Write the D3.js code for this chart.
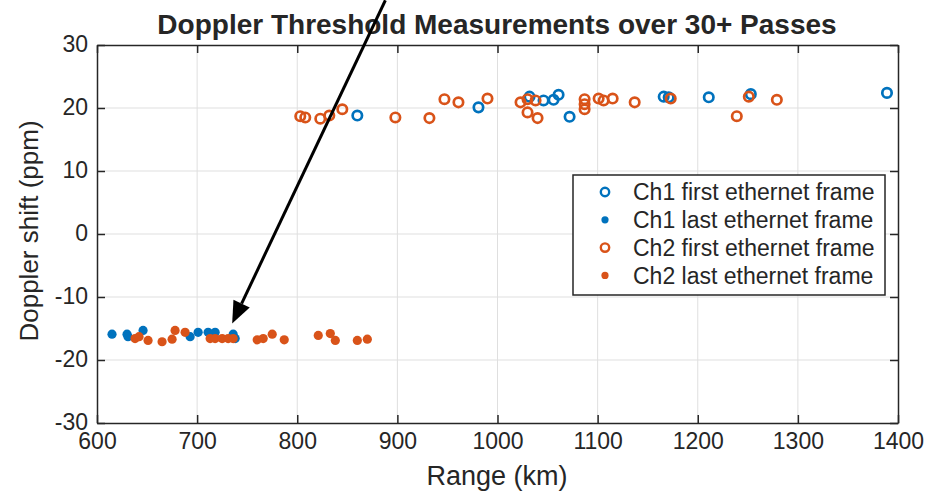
<!DOCTYPE html>
<html>
<head>
<meta charset="utf-8">
<script src="https://cdn.jsdelivr.net/npm/d3@7"></script>
<style>
  body { margin: 0; background: #fff; }
  text { font-family: "Liberation Sans", Arial, sans-serif; fill: #262626; }
</style>
</head>
<body>
<div id="chart"></div>
<script>
// range (km) and doppler shift (ppm)
const ch1First = [
  [860, 18.8], [981, 20.1], [1032, 21.8], [1046, 21.2], [1056, 21.3],
  [1061, 22.1], [1072, 18.6], [1166, 21.8], [1171, 21.7], [1211, 21.7],
  [1253, 22.2], [1389, 22.4]
];
const ch1Last = [
  [615, -15.9], [630, -15.9], [631, -16.3], [646, -15.3], [693, -16.3],
  [701, -15.6], [711, -15.6], [718, -15.6], [736, -15.9], [738, -16.6]
];
const ch2First = [
  [803, 18.7], [808, 18.5], [823, 18.3], [832, 18.8], [845, 19.8],
  [898, 18.5], [932, 18.4], [947, 21.4], [961, 20.9], [990, 21.5],
  [1023, 20.9], [1030, 21.4], [1030, 19.3], [1038, 21.2], [1040, 18.4],
  [1087, 21.4], [1087, 20.6], [1087, 19.8], [1101, 21.5], [1106, 21.2],
  [1115, 21.5], [1137, 20.9], [1173, 21.5], [1239, 18.7], [1251, 21.8],
  [1279, 21.3]
];
const ch2Last = [
  [638, -16.6], [642, -16.3], [651, -16.9], [665, -17.1], [675, -16.7],
  [678, -15.3], [688, -15.6], [713, -16.6], [718, -16.6], [725, -16.6],
  [731, -16.6], [736, -16.6], [760, -16.8], [766, -16.6], [775, -15.9],
  [787, -16.8], [821, -16.1], [833, -15.8], [838, -16.9], [860, -16.9],
  [870, -16.7]
];
const xTicks = [600, 700, 800, 900, 1000, 1100, 1200, 1300, 1400];
const yTicks = [-30, -20, -10, 0, 10, 20, 30];
const legendLabels = [
  "Ch1 first ethernet frame", "Ch1 last ethernet frame",
  "Ch2 first ethernet frame", "Ch2 last ethernet frame"
];
// arrow annotation: start and tip in data units
const arrowFrom = [888, 37.1];
const arrowTo = [735, -14.2];

const blue = "#0072BD";
const orange = "#D95319";
const axisCol = "#262626";

const width = 928, height = 492;
const m = { left: 97, right: 30, top: 45, bottom: 69 };

const svg = d3.select("#chart").append("svg")
  .attr("width", width).attr("height", height);

const x = d3.scaleLinear().domain([600, 1400]).range([m.left, width - m.right]);
const y = d3.scaleLinear().domain([-30, 30]).range([height - m.bottom, m.top]);

// grid
svg.append("g").selectAll("line").data(xTicks.slice(1, -1)).join("line")
  .attr("x1", d => x(d)).attr("x2", d => x(d))
  .attr("y1", y(-30)).attr("y2", y(30))
  .attr("stroke", "#dfdfdf").attr("stroke-width", 1);
svg.append("g").selectAll("line").data(yTicks.slice(1, -1)).join("line")
  .attr("x1", x(600)).attr("x2", x(1400))
  .attr("y1", d => y(d)).attr("y2", d => y(d))
  .attr("stroke", "#dfdfdf").attr("stroke-width", 1);

// axes (ticks inward, box on)
const tl = 8;
const fmt = d => String(d);
const gx = svg.append("g").attr("transform", `translate(0,${y(-30)})`)
  .call(d3.axisBottom(x).tickValues(xTicks).tickFormat(fmt)
    .tickSizeInner(-tl).tickSizeOuter(0).tickPadding(10));
const gxTop = svg.append("g").attr("transform", `translate(0,${y(30)})`)
  .call(d3.axisTop(x).tickValues(xTicks).tickSizeInner(-tl).tickSizeOuter(0).tickFormat(""));
const gy = svg.append("g").attr("transform", `translate(${x(600)},0)`)
  .call(d3.axisLeft(y).tickValues(yTicks).tickFormat(fmt)
    .tickSizeInner(-tl).tickSizeOuter(0).tickPadding(9));
const gyR = svg.append("g").attr("transform", `translate(${x(1400)},0)`)
  .call(d3.axisRight(y).tickValues(yTicks).tickSizeInner(-tl).tickSizeOuter(0).tickFormat(""));
[gx, gxTop, gy, gyR].forEach(g => {
  g.select(".domain").attr("stroke", axisCol).attr("stroke-width", 1.5);
  g.selectAll(".tick line").attr("stroke", axisCol).attr("stroke-width", 1.5);
  g.selectAll(".tick text").attr("fill", axisCol)
    .style("font-size", "23px").style("font-family", "Liberation Sans, Arial, sans-serif");
});
gy.selectAll(".tick text").attr("dy", "0.3em");

// points
function openPts(data, col) {
  svg.append("g").selectAll("circle").data(data).join("circle")
    .attr("cx", d => x(d[0])).attr("cy", d => y(d[1])).attr("r", 4.7)
    .attr("fill", "none").attr("stroke", col).attr("stroke-width", 2.7);
}
function filledPts(data, col) {
  svg.append("g").selectAll("circle").data(data).join("circle")
    .attr("cx", d => x(d[0])).attr("cy", d => y(d[1])).attr("r", 4.6)
    .attr("fill", col);
}
openPts(ch1First, blue);
filledPts(ch1Last, blue);
openPts(ch2First, orange);
filledPts(ch2Last, orange);

// legend
const lg = svg.append("g");
lg.append("rect").attr("x", 573).attr("y", 175).attr("width", 312).attr("height", 120)
  .attr("fill", "#fff").attr("stroke", axisCol).attr("stroke-width", 1.5);
const legendStyle = [
  { col: blue, open: true }, { col: blue, open: false },
  { col: orange, open: true }, { col: orange, open: false }
];
legendLabels.forEach((label, i) => {
  const cy = 192 + i * 27.8;
  const s = legendStyle[i];
  lg.append("circle").attr("cx", 605).attr("cy", cy)
    .attr("r", s.open ? 4.2 : 3.6)
    .attr("fill", s.open ? "none" : s.col)
    .attr("stroke", s.open ? s.col : "none").attr("stroke-width", 2.4);
  lg.append("text").attr("x", 633).attr("y", cy).attr("dy", "0.36em")
    .style("font-size", "23px").text(label);
});

// title and axis labels
svg.append("text").attr("x", 497).attr("y", 34).attr("text-anchor", "middle")
  .style("font-size", "28px").style("font-weight", "bold").attr("fill", "#000")
  .text("Doppler Threshold Measurements over 30+ Passes");
svg.append("text").attr("x", 497).attr("y", 485).attr("text-anchor", "middle")
  .style("font-size", "27px").text("Range (km)");
svg.append("text").attr("transform", `translate(38,${y(0) - 3}) rotate(-90)`)
  .attr("text-anchor", "middle").style("font-size", "26px").text("Doppler shift (ppm)");

// arrow
const ax0 = x(arrowFrom[0]), ay0 = y(arrowFrom[1]);
const ax1 = x(arrowTo[0]), ay1 = y(arrowTo[1]);
const ang = Math.atan2(ay1 - ay0, ax1 - ax0);
const headLen = 22, headW = 9;
const bx = ax1 - headLen * Math.cos(ang), by = ay1 - headLen * Math.sin(ang);
svg.append("line").attr("x1", ax0).attr("y1", ay0).attr("x2", bx).attr("y2", by)
  .attr("stroke", "#000").attr("stroke-width", 3);
svg.append("path")
  .attr("d", d3.line()([
    [ax1, ay1],
    [bx + headW * Math.sin(ang), by - headW * Math.cos(ang)],
    [bx - headW * Math.sin(ang), by + headW * Math.cos(ang)]
  ]) + "Z")
  .attr("fill", "#000");
</script>
</body>
</html>
